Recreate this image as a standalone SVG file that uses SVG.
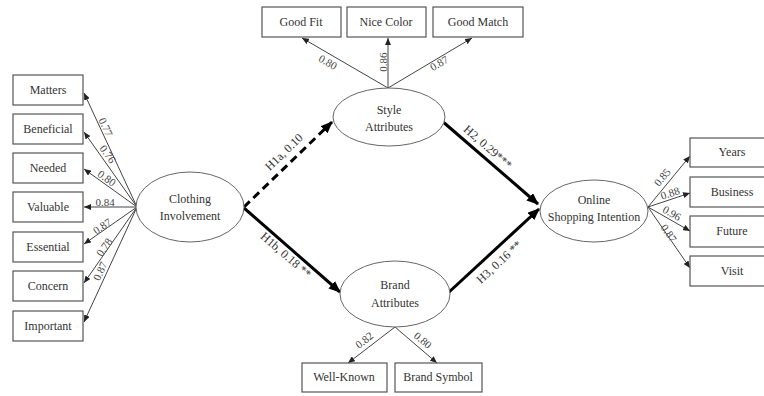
<svg xmlns="http://www.w3.org/2000/svg" width="764" height="396" viewBox="0 0 764 396">
<style>
.box{fill:#fff;stroke:#555;stroke-width:1.2}
.ell{fill:#fff;stroke:#666;stroke-width:1}
.t{font-family:"Liberation Serif","Times New Roman",serif;font-size:12px;fill:#333;text-anchor:middle;dominant-baseline:central}
.l{font-family:"Liberation Serif","Times New Roman",serif;font-size:11px;fill:#444;text-anchor:middle;dominant-baseline:central}
.h{font-family:"Liberation Serif","Times New Roman",serif;font-size:12px;fill:#333;text-anchor:middle;dominant-baseline:central}
.thin{stroke:#444;stroke-width:1;fill:none;marker-end:url(#a)}
.thick{stroke:#000;stroke-width:3;fill:none;marker-end:url(#b)}
</style>
<defs>
<marker id="a" markerUnits="userSpaceOnUse" markerWidth="7" markerHeight="6" refX="7" refY="3" orient="auto"><path d="M0,0 L7,3 L0,6 z" fill="#222"/></marker>
<marker id="b" markerUnits="userSpaceOnUse" markerWidth="12" markerHeight="10" refX="11" refY="5" orient="auto"><path d="M0,0 L12,5 L0,10 z" fill="#000"/></marker>
</defs>
<rect width="764" height="396" fill="#fff"/>
<g id="connectors">
<line class="thin" x1="137" y1="207" x2="84" y2="93"/>
<line class="thin" x1="137" y1="207" x2="84" y2="132"/>
<line class="thin" x1="137" y1="207" x2="84" y2="169"/>
<line class="thin" x1="137" y1="207" x2="84" y2="207"/>
<line class="thin" x1="137" y1="207" x2="84" y2="244"/>
<line class="thin" x1="137" y1="207" x2="84" y2="283"/>
<line class="thin" x1="137" y1="207" x2="84" y2="322"/>
<line class="thin" x1="388" y1="88" x2="302" y2="38"/>
<line class="thin" x1="388" y1="88" x2="388" y2="38"/>
<line class="thin" x1="388" y1="88" x2="472" y2="38"/>
<line class="thin" x1="395" y1="327" x2="348" y2="363"/>
<line class="thin" x1="395" y1="327" x2="437" y2="363"/>
<line class="thin" x1="648" y1="207" x2="690" y2="156"/>
<line class="thin" x1="648" y1="207" x2="690" y2="193"/>
<line class="thin" x1="648" y1="207" x2="690" y2="231"/>
<line class="thin" x1="648" y1="207" x2="690" y2="268"/>
<line class="thick" x1="244" y1="207" x2="332" y2="122" stroke-dasharray="8,5" marker-end="url(#b)" style="stroke-dasharray:8,5"/>
<line class="thick" x1="244" y1="208" x2="340" y2="292"/>
<line class="thick" x1="442" y1="121" x2="538" y2="204"/>
<line class="thick" x1="448" y1="293" x2="539" y2="209"/>
<text class="l" transform="translate(106,127) rotate(65)">0.77</text>
<text class="l" transform="translate(108,154) rotate(54)">0.76</text>
<text class="l" transform="translate(107,178) rotate(35)">0.80</text>
<text class="l" transform="translate(105,202)">0.84</text>
<text class="l" transform="translate(102,226) rotate(-34)">0.87</text>
<text class="l" transform="translate(104,247) rotate(-55)">0.78</text>
<text class="l" transform="translate(100,271) rotate(-65)">0.87</text>
<text class="l" transform="translate(328,62) rotate(30)">0.80</text>
<text class="l" transform="translate(383,62) rotate(-90)">0.86</text>
<text class="l" transform="translate(439,63) rotate(-30)">0.87</text>
<text class="l" transform="translate(364,340) rotate(-38)">0.82</text>
<text class="l" transform="translate(423,340) rotate(40)">0.80</text>
<text class="l" transform="translate(662,177) rotate(-50)">0.85</text>
<text class="l" transform="translate(670,193) rotate(-18)">0.88</text>
<text class="l" transform="translate(672,213) rotate(30)">0.96</text>
<text class="l" transform="translate(669,233) rotate(55)">0.87</text>
<text class="h" transform="translate(284,152) rotate(-44)">H1a, 0.10</text>
<text class="h" transform="translate(286,255) rotate(41)">H1b, 0.18 **</text>
<text class="h" transform="translate(488,147) rotate(41)">H2, 0.29***</text>
<text class="h" transform="translate(499,262) rotate(-43)">H3, 0.16 **</text>
</g>
<g id="matters"><rect class="box" x="13" y="75" width="70" height="30"/><text class="t" x="48" y="90">Matters</text></g>
<g id="beneficial"><rect class="box" x="13" y="114" width="70" height="30"/><text class="t" x="48" y="129">Beneficial</text></g>
<g id="needed"><rect class="box" x="13" y="153" width="70" height="30"/><text class="t" x="48" y="168">Needed</text></g>
<g id="valuable"><rect class="box" x="13" y="192" width="70" height="30"/><text class="t" x="48" y="207">Valuable</text></g>
<g id="essential"><rect class="box" x="13" y="232" width="70" height="30"/><text class="t" x="48" y="247">Essential</text></g>
<g id="concern"><rect class="box" x="13" y="271" width="70" height="30"/><text class="t" x="48" y="286">Concern</text></g>
<g id="important"><rect class="box" x="13" y="311" width="70" height="30"/><text class="t" x="48" y="326">Important</text></g>
<g id="good-fit"><rect class="box" x="262" y="7" width="79" height="30"/><text class="t" x="301" y="22">Good Fit</text></g>
<g id="nice-color"><rect class="box" x="347" y="7" width="79" height="30"/><text class="t" x="386" y="22">Nice Color</text></g>
<g id="good-match"><rect class="box" x="433" y="7" width="90" height="30"/><text class="t" x="478" y="22">Good Match</text></g>
<g id="well-known"><rect class="box" x="302" y="363" width="85" height="29"/><text class="t" x="344" y="377">Well-Known</text></g>
<g id="brand-symbol"><rect class="box" x="395" y="363" width="87" height="29"/><text class="t" x="438" y="377">Brand Symbol</text></g>
<g id="years"><rect class="box" x="690" y="138" width="84" height="29"/><text class="t" x="732" y="152">Years</text></g>
<g id="business"><rect class="box" x="690" y="177" width="84" height="30"/><text class="t" x="732" y="192">Business</text></g>
<g id="future"><rect class="box" x="690" y="216" width="84" height="31"/><text class="t" x="732" y="231">Future</text></g>
<g id="visit"><rect class="box" x="690" y="256" width="84" height="30"/><text class="t" x="732" y="271">Visit</text></g>
<g id="clothing-involvement"><ellipse class="ell" cx="190" cy="207" rx="54" ry="35"/><text class="t" x="190" y="199">Clothing</text><text class="t" x="190" y="216">Involvement</text></g>
<g id="style-attributes"><ellipse class="ell" cx="389" cy="117" rx="56" ry="29"/><text class="t" x="389" y="110">Style</text><text class="t" x="389" y="127">Attributes</text></g>
<g id="brand-attributes"><ellipse class="ell" cx="395" cy="294" rx="55" ry="33"/><text class="t" x="395" y="285">Brand</text><text class="t" x="395" y="303">Attributes</text></g>
<g id="online-shopping-intention"><ellipse class="ell" cx="594" cy="211" rx="54" ry="31"/><text class="t" x="594" y="200">Online</text><text class="t" x="594" y="217">Shopping Intention</text></g>
</svg>
